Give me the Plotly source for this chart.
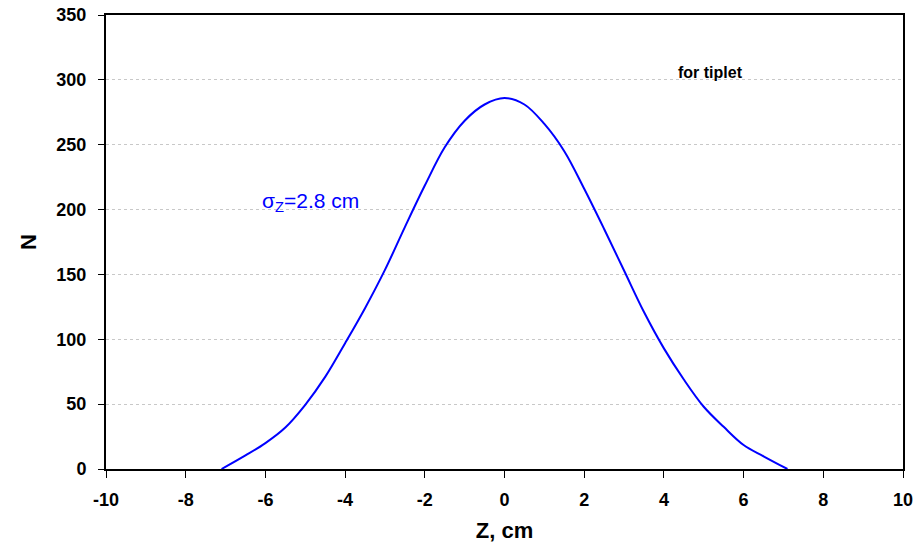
import plotly.graph_objects as go

z_cm = [-7.1, -6.5, -6.0, -5.5, -5.0, -4.5, -4.0, -3.5, -3.0, -2.5, -2.0, -1.5, -1.0, -0.5,
        0.0, 0.5, 1.0, 1.5, 2.0, 2.5, 3.0, 3.5, 4.0, 4.5, 5.0, 5.5, 6.0, 6.5, 7.1]
n_counts = [0, 10.5, 20, 32, 49.5, 71, 97, 124, 153.5, 186.5, 218.5, 248, 268.5, 281,
            286, 281, 266, 245, 216, 185, 153, 121, 93, 69, 48, 32.5, 18.5, 9.8, 0]

x_ticks = list(range(-10, 11, 2))
y_ticks = list(range(0, 351, 50))

FONT = "Liberation Sans, Arial"

fig = go.Figure()
fig.add_trace(go.Scatter(x=z_cm, y=n_counts, mode="lines",
                         line=dict(color="#0000FF", width=2, shape="spline", smoothing=1.0),
                         showlegend=False, hoverinfo="skip"))

fig.add_annotation(x=-6.13, y=206, xref="x", yref="y", xanchor="left", yanchor="middle",
                   text="σ<sub>Z</sub>=2.8 cm", showarrow=False,
                   font=dict(family=FONT, size=21, color="#0000FF"))
fig.add_annotation(x=5.16, y=306, xref="x", yref="y", xanchor="center", yanchor="middle",
                   text="<b>for tiplet</b>", showarrow=False,
                   font=dict(family=FONT, size=16, color="#000000"))

axis_font = dict(family=FONT, size=18, color="#000000")
fig.update_layout(
    width=914, height=543,
    margin=dict(l=106, r=11, t=15, b=74),
    paper_bgcolor="white", plot_bgcolor="white",
    font=dict(family=FONT),
    xaxis=dict(range=[-10, 10], tickvals=x_ticks, ticktext=[f"<b>{v}</b>" for v in x_ticks],
               showgrid=False, zeroline=False, showline=True, linecolor="black", linewidth=2,
               mirror=True, ticks="outside", ticklen=7, tickwidth=1, tickcolor="black",
               tickfont=axis_font, automargin=False, ticklabelstandoff=6,
               title=dict(text="<b>Z, cm</b>", font=dict(family=FONT, size=22, color="black"),
                          standoff=16)),
    yaxis=dict(range=[0, 350], tickvals=y_ticks, ticktext=[f"<b>{v}</b>" for v in y_ticks],
               showgrid=True, gridcolor="#c8c8c8", griddash="3px,3px", gridwidth=1,
               zeroline=False, showline=True, linecolor="black", linewidth=2,
               mirror=True, ticks="outside", ticklen=6, tickwidth=1, tickcolor="black",
               tickfont=axis_font, automargin=False, ticklabelstandoff=8,
               title=dict(text="<b>N</b>", font=dict(family=FONT, size=22, color="black"),
                          standoff=14)),
)

fig.write_html("out.html")
